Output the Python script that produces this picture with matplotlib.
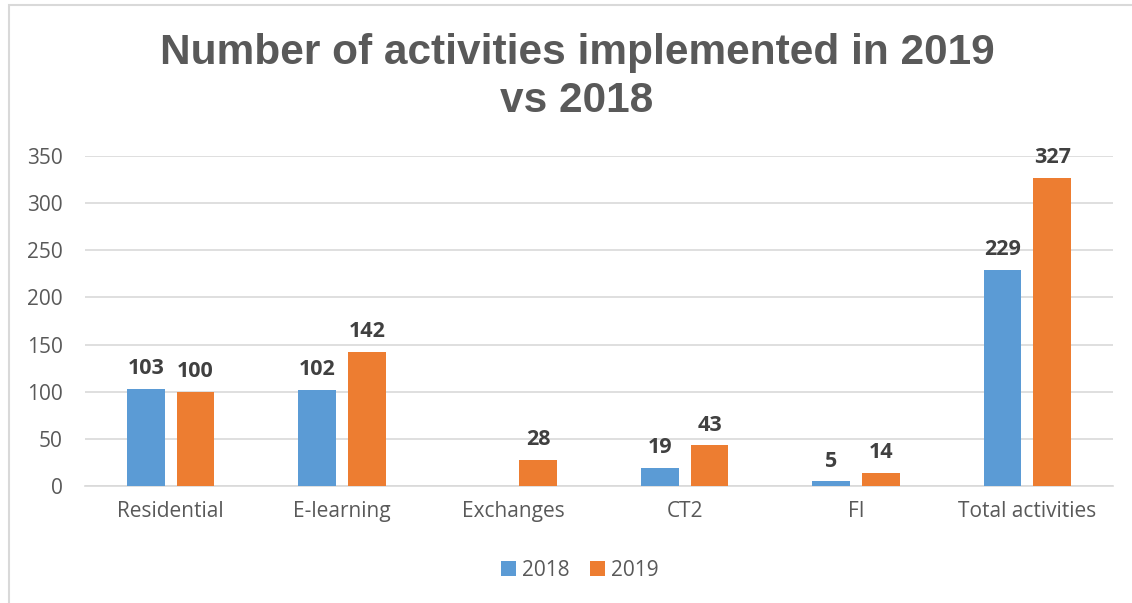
import numpy as np
import matplotlib
matplotlib.use("Agg")
import matplotlib.pyplot as plt
from matplotlib.patches import Rectangle

categories = ["Residential", "E-learning", "Exchanges", "CT2", "FI", "Total activities"]
series_names = ["2018", "2019"]
values_2018 = [103, 102, np.nan, 19, 5, 229]
values_2019 = [100, 142, 28, 43, 14, 327]
yticks = [0, 50, 100, 150, 200, 250, 300, 350]
title = "Number of activities implemented in 2019\nvs 2018"

colors = ["#5B9BD5", "#ED7D31"]
W, H, DPI = 1132, 603, 100
fig = plt.figure(figsize=(W / DPI, H / DPI), dpi=DPI)
fig.patch.set_facecolor("white")

# outer chart border (left and top visible)
fig.add_artist(Rectangle((9 / W, -0.01), 1.2, 1 - 5 / H + 0.01, transform=fig.transFigure,
                         fill=False, edgecolor="#D9D9D9", linewidth=1.5))

ax = fig.add_axes([85 / W, 1 - 486 / H, (1113 - 85) / W, (486 - 156) / H])
x = np.arange(len(categories))
bw = 0.22
off = 0.145
for i, (vals, name) in enumerate(zip([values_2018, values_2019], series_names)):
    pos = x + (-off if i == 0 else off)
    v = np.array(vals, dtype=float)
    ax.bar(pos, np.nan_to_num(v), width=bw, color=colors[i], label=name, zorder=3)
    for p, val in zip(pos, v):
        if not np.isnan(val):
            ax.annotate(f"{int(val)}", (p, val), xytext=(0, 7), textcoords="offset points",
                        ha="center", va="bottom", fontsize=15.5, fontweight="bold",
                        color="#404040", family=["Open Sans", "DejaVu Sans"])

ax.set_ylim(0, 350)
ax.set_xlim(-0.5, len(categories) - 0.5)
ax.set_yticks(yticks)
ax.set_xticks(x)
ax.set_xticklabels(categories)
ax.yaxis.grid(True, color="#D9D9D9", linewidth=1.2, zorder=0)
ax.set_axisbelow(True)
for s in ["top", "right", "left"]:
    ax.spines[s].set_visible(False)
ax.spines["bottom"].set_color("#D9D9D9")
ax.spines["bottom"].set_linewidth(1.2)
ax.tick_params(axis="both", length=0, labelsize=15, labelcolor="#595959")
ax.tick_params(axis="y", pad=16)
ax.tick_params(axis="x", pad=11)
for lab in ax.get_xticklabels() + ax.get_yticklabels():
    lab.set_family(["Open Sans", "DejaVu Sans"])

fig.text(577 / W, 1 - 77 / H, title, ha="center", va="center", fontsize=30.5, fontweight="bold",
         color="#595959", family=["Liberation Sans", "DejaVu Sans"], linespacing=1.25)

leg = fig.legend(loc="center", bbox_to_anchor=(580 / W, 1 - 570 / H), ncol=2, frameon=False,
                 handlelength=0.7, handleheight=0.7, columnspacing=1.0,
                 handletextpad=0.3, prop={"family": ["Open Sans", "DejaVu Sans"], "size": 15})
for t in leg.get_texts():
    t.set_color("#595959")

fig.savefig("out.png", dpi=DPI)
